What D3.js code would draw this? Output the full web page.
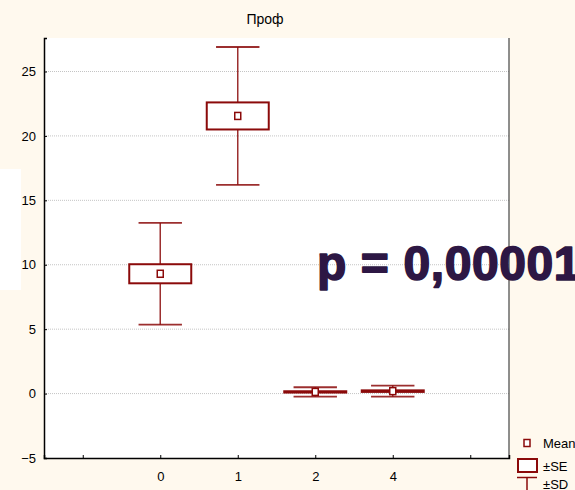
<!DOCTYPE html>
<html>
<head>
<meta charset="utf-8">
<script src="https://cdn.jsdelivr.net/npm/d3@7"></script>
<style>
  html, body { margin: 0; padding: 0; background: #fff9ee; }
  svg { display: block; }
</style>
</head>
<body>
<svg id="chart" width="575" height="490"></svg>
<script>
// Group means with standard error and standard deviation
const categories = ["0", "1", "2", "4"];
const slots = [1, 2, 3, 4];
const means = [9.3, 21.55, 0.13, 0.19];
const se = [0.74, 1.05, 0.05, 0.06];
const sd = [3.95, 5.35, 0.36, 0.43];
const yTicks = [-5, 0, 5, 10, 15, 20, 25];
const title = "Проф";
const pLabel = "p = 0,00001";
const legendLabels = ["Mean", "±SE", "±SD"];

const svg = d3.select("#chart");
const W = 575, H = 490;
const m = { left: 44, right: 509, top: 38, bottom: 458 };
const red = "#8b0a0a";
const font = "'Liberation Sans Narrow', 'Arial Narrow', 'Liberation Sans', Arial, sans-serif";

svg.append("rect").attr("width", W).attr("height", H).attr("fill", "#fff9ee");

const x = d3.scaleLinear().domain([-0.5, 5.5]).range([m.left, m.right]);
const y = d3.scaleLinear().domain([-5, 27.6]).range([m.bottom, m.top]);

// plot area
svg.append("rect")
  .attr("x", m.left).attr("y", m.top)
  .attr("width", m.right - m.left).attr("height", m.bottom - m.top)
  .attr("fill", "#ffffff");

// grid lines
svg.append("g").selectAll("line")
  .data(yTicks.filter(t => t > -5))
  .join("line")
  .attr("x1", m.left).attr("x2", m.right)
  .attr("y1", d => y(d)).attr("y2", d => y(d))
  .attr("stroke", "#c4c4c4").attr("stroke-width", 1)
  .attr("stroke-dasharray", "1,1");

// right frame
svg.append("line")
  .attr("x1", m.right).attr("x2", m.right)
  .attr("y1", m.top).attr("y2", m.bottom)
  .attr("stroke", "#444").attr("stroke-width", 1.2);

// y axis
const yAxis = d3.axisLeft(y).tickValues(yTicks).tickSize(-3).tickPadding(8);
const gy = svg.append("g").attr("transform", `translate(${m.left},0)`).call(yAxis);
gy.select(".domain").attr("stroke", "#000").attr("stroke-width", 1.5);
gy.selectAll(".tick line").attr("stroke", "#000");
gy.selectAll(".tick text").attr("font-family", font).attr("font-size", 13).attr("fill", "#000");

// x axis: one slot either side of the groups, ticks at every slot
const xAxis = d3.axisBottom(x).tickValues([0, 1, 2, 3, 4, 5])
  .tickFormat((d) => { const i = slots.indexOf(d); return i >= 0 ? categories[i] : ""; })
  .tickSize(-3).tickPadding(14);
const gx = svg.append("g").attr("transform", `translate(0,${m.bottom})`).call(xAxis);
gx.select(".domain").attr("stroke", "#000").attr("stroke-width", 1.5);
gx.selectAll(".tick line").attr("stroke", "#000");
gx.selectAll(".tick text").attr("font-family", font).attr("font-size", 13).attr("fill", "#000");

// whiskers (±SD), boxes (±SE) and mean markers
const slotW = x(1) - x(0);
const boxW = slotW * 0.8, capW = slotW * 0.56;
const g = svg.append("g");
means.forEach((mu, i) => {
  const cx = x(slots[i]);
  g.append("line").attr("x1", cx).attr("x2", cx)
    .attr("y1", y(mu + sd[i])).attr("y2", y(mu - sd[i]))
    .attr("stroke", red).attr("stroke-width", 1.5).attr("stroke-opacity", 0.85);
  [mu + sd[i], mu - sd[i]].forEach(v => {
    g.append("line").attr("x1", cx - capW / 2).attr("x2", cx + capW / 2)
      .attr("y1", y(v)).attr("y2", y(v))
      .attr("stroke", red).attr("stroke-width", 1.8).attr("stroke-opacity", 0.85);
  });
  g.append("rect")
    .attr("x", cx - boxW / 2).attr("y", y(mu + se[i]))
    .attr("width", boxW).attr("height", y(mu - se[i]) - y(mu + se[i]))
    .attr("fill", "#fff").attr("stroke", red).attr("stroke-width", 2);
  g.append("rect")
    .attr("x", cx - 3).attr("y", y(mu) - 3.5)
    .attr("width", 6).attr("height", 7)
    .attr("fill", "#fff").attr("stroke", red).attr("stroke-width", 1.5);
});

// title
svg.append("text").attr("x", 265).attr("y", 24).attr("text-anchor", "middle")
  .attr("font-family", font).attr("font-size", 14).attr("fill", "#000").text(title);

// side panel
svg.append("rect").attr("x", 0).attr("y", 169).attr("width", 21).attr("height", 121)
  .attr("fill", "#ffffff");

// significance label
svg.append("text").attr("x", 317).attr("y", 280)
  .attr("font-family", "'Liberation Sans', Arial, sans-serif")
  .attr("font-weight", "bold").attr("font-size", 48)
  .attr("letter-spacing", 0.6)
  .attr("fill", "#2d1744").attr("stroke", "#2d1744").attr("stroke-width", 1.6)
  .attr("stroke-linejoin", "round")
  .text(pLabel);

// legend
const lg = svg.append("g").attr("font-family", font).attr("font-size", 13).attr("fill", "#000");
lg.append("rect").attr("x", 524).attr("y", 439.5).attr("width", 6).attr("height", 7)
  .attr("fill", "#fff").attr("stroke", red).attr("stroke-width", 1.5);
lg.append("text").attr("x", 543).attr("y", 448).text(legendLabels[0]);
lg.append("rect").attr("x", 518).attr("y", 459).attr("width", 19).attr("height", 13)
  .attr("fill", "#fff").attr("stroke", red).attr("stroke-width", 2);
lg.append("text").attr("x", 543).attr("y", 471).text(legendLabels[1]);
lg.append("line").attr("x1", 517).attr("x2", 537).attr("y1", 477.5).attr("y2", 477.5)
  .attr("stroke", red).attr("stroke-width", 1.5);
lg.append("line").attr("x1", 527).attr("x2", 527).attr("y1", 477.5).attr("y2", 490)
  .attr("stroke", red).attr("stroke-width", 1.5);
lg.append("text").attr("x", 543).attr("y", 489).text(legendLabels[2]);
</script>
</body>
</html>
